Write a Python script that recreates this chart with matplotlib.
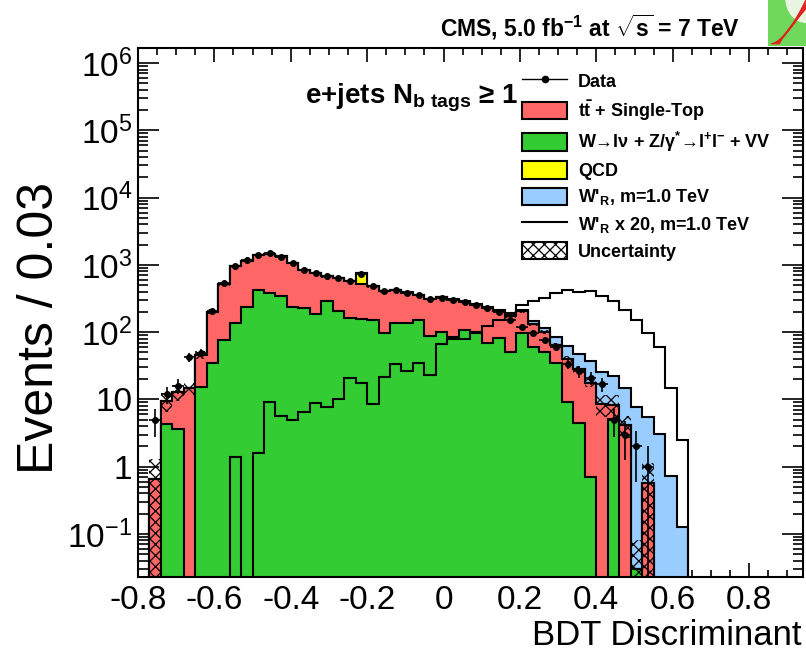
import numpy as np
import matplotlib
matplotlib.use("Agg")
import matplotlib.pyplot as plt
from matplotlib.lines import Line2D
from matplotlib.patches import Patch
from matplotlib.ticker import FixedLocator, FixedFormatter, LogLocator, MultipleLocator, NullFormatter

# BDT output, 0.03 wide bins starting at -0.80
bin_lo = -0.80
bin_width = 0.03

ewk = [0, 0, 4.3, 3.6, 0, 15.5, 34.6, 77, 136, 240,
       416, 388, 339, 240, 228, 187, 295, 207, 162, 156,
       152, 97, 136, 136, 152, 88, 102, 85, 108, 97,
       69, 81, 51, 97, 61, 51, 34.6, 9.3, 4.4, 0.71,
       0, 5.2, 0, 0.03, 0, 0, 0, 0]
top = [0, 0.65, 5.3, 9.4, 14.7, 30.5, 168, 441, 810, 920,
       997, 1074, 994, 820, 617, 568, 377, 429, 404, 364,
       325, 305, 290, 252, 207, 222, 228, 218, 177, 157,
       159, 122, 120, 106, 69, 49, 30, 31, 24, 17,
       8.5, 3.1, 4.2, 0, 0.58, 0, 0, 0]
qcd = [0] * 19 + [240] + [0] * 28
wprime = [0, 0, 0, 0, 0, 0, 0, 0, 0.07, 0,
          0.08, 0.46, 0.28, 0.25, 0.32, 0.44, 0.39, 0.5, 1.05, 0.87,
          0.43, 1.09, 1.69, 1.33, 1.73, 1.16, 3.35, 4.0, 4.0, 5.0,
          6.25, 7.5, 9.5, 12.7, 14.3, 15.9, 19.0, 21.5, 19.5, 20.1,
          17.0, 14.3, 10.8, 7.6, 4.85, 3.05, 0.73, 0.125]
data = [0, 5, 12, 16, 42, 49, 205, 530, 950, 1180,
        1400, 1480, 1320, 1080, 850, 760, 680, 630, 570, 720,
        480, 405, 420, 385, 355, 315, 325, 300, 280, 250,
        225, 200, 152, 121, 97, 77, 61, 34, 26, 21,
        17, 5, 3, 2, 1, 0, 0, 0]
bkg_unc = [0, 0.64, 3.0, 3.5, 3.0, 6, 15, 25, 40, 50,
           60, 60, 55, 45, 35, 32, 28, 27, 24, 35,
           20, 17, 18, 17, 16, 14, 15, 14, 13, 12,
           11, 10, 9, 10, 8, 7, 5, 4, 3.5, 2.5,
           3, 3.5, 1.5, 0.05, 0.56, 0, 0, 0]
signal_scale = 20

x_ticks = [-0.8, -0.6, -0.4, -0.2, 0, 0.2, 0.4, 0.6, 0.8]
x_ticklabels = ["-0.8", "-0.6", "-0.4", "-0.2", "0", "0.2", "0.4", "0.6", "0.8"]
y_ticks = [1e-1, 1, 10, 1e2, 1e3, 1e4, 1e5, 1e6]
y_ticklabels = [r"$\mathsf{10^{-1}}$", "1", "10", r"$\mathsf{10^{2}}$", r"$\mathsf{10^{3}}$",
                r"$\mathsf{10^{4}}$", r"$\mathsf{10^{5}}$", r"$\mathsf{10^{6}}$"]

RED = "#ff6666"
GREEN = "#33cc33"
YELLOW = "#ffff00"
BLUE = "#99ccff"
FLOOR = 1e-3

plt.rcParams["font.family"] = ["Liberation Sans", "DejaVu Sans"]
plt.rcParams["axes.unicode_minus"] = False
plt.rcParams["mathtext.fontset"] = "custom"
plt.rcParams["mathtext.rm"] = "Liberation Sans:bold"
plt.rcParams["mathtext.bf"] = "Liberation Sans:bold"
plt.rcParams["mathtext.it"] = "Liberation Sans:bold:italic"
plt.rcParams["mathtext.sf"] = "Liberation Sans"
plt.rcParams["mathtext.default"] = "rm"
plt.rcParams["hatch.linewidth"] = 0.9

ewk = np.array(ewk, dtype=float)
top = np.array(top, dtype=float)
qcd = np.array(qcd, dtype=float)
wprime = np.array(wprime, dtype=float)
data = np.array(data, dtype=float)
bkg_unc = np.array(bkg_unc, dtype=float)

n_bins = len(ewk)
edges = bin_lo + bin_width * np.arange(n_bins + 1)
centers = 0.5 * (edges[:-1] + edges[1:])

stack1 = ewk
stack2 = stack1 + top
stack3 = stack2 + qcd
stack4 = stack3 + wprime

fig = plt.figure(figsize=(8.06, 6.51), dpi=100)
ax = fig.add_axes([0.1711, 0.1144, 0.8247, 0.8118])

# stacked histograms, drawn from the full sum downwards
for values, color in [(stack4, BLUE), (stack3, YELLOW), (stack2, RED), (stack1, GREEN)]:
    ax.stairs(np.maximum(values, FLOOR), edges, baseline=FLOOR, fill=True,
              facecolor=color, edgecolor="black", linewidth=1.5, zorder=2)

# background uncertainty band
band_lo = np.maximum(stack3 - bkg_unc, FLOOR)
band_hi = stack3 + bkg_unc
has_unc = bkg_unc > 0
ax.bar(edges[:-1][has_unc], (band_hi - band_lo)[has_unc], bottom=band_lo[has_unc],
       width=bin_width, align="edge", facecolor="none", edgecolor="black",
       linewidth=0, hatch="xxx", zorder=3)

# scaled signal shape
ax.stairs(np.maximum(signal_scale * wprime, FLOOR), edges, baseline=FLOOR,
          color="black", linewidth=1.5, zorder=4)

has_data = data > 0
ax.errorbar(centers[has_data], data[has_data], yerr=np.sqrt(data[has_data]),
            xerr=bin_width / 2, fmt="o", color="black", ms=4, elinewidth=1.2,
            capsize=0, zorder=5)

ax.set_yscale("log")
ax.set_xlim(-0.80, 0.94)
ax.set_ylim(0.0233, 1.67e6)

ax.xaxis.set_major_locator(FixedLocator(x_ticks))
ax.xaxis.set_major_formatter(FixedFormatter(x_ticklabels))
ax.xaxis.set_minor_locator(MultipleLocator(0.05))
ax.yaxis.set_major_locator(FixedLocator(y_ticks))
ax.yaxis.set_major_formatter(FixedFormatter(y_ticklabels))
ax.yaxis.set_minor_locator(LogLocator(base=10, subs=np.arange(2, 10), numticks=20))
ax.yaxis.set_minor_formatter(NullFormatter())

ax.tick_params(axis="both", which="both", direction="in", top=True, right=True, width=1.2)
ax.tick_params(axis="x", which="major", length=10, pad=6, labelsize=24)
ax.tick_params(axis="x", which="minor", length=5)
ax.tick_params(axis="y", which="major", length=15, pad=4, labelsize=24)
ax.tick_params(axis="y", which="minor", length=7.5)
for spine in ax.spines.values():
    spine.set_linewidth(1.5)
    spine.set_zorder(6)

fig.text(801 / 806, 1 - 645 / 651, "BDT Discriminant", ha="right", va="baseline", fontsize=25)
fig.text(40 / 806, 1 - 328 / 651, "Events / 0.03", ha="center", va="center",
         rotation=90, fontsize=36)
fig.text(740 / 806, 1 - 27 / 651, r"CMS, 5.0 fb$^{-1}$ at $\sqrt{s}$ = 7 TeV",
         ha="right", va="center", fontsize=16.5, fontweight="bold")

fig.text(305 / 806, 1 - 103 / 651, r"e+jets N$_{\mathrm{b\ tags}}$ ≥ 1",
         va="baseline", fontsize=20, fontweight="bold")

handles = [
    Line2D([], [], color="black", marker="o", ms=4.5, lw=1.0),
    Patch(facecolor=RED, edgecolor="black", linewidth=1.5),
    Patch(facecolor=GREEN, edgecolor="black", linewidth=1.5),
    Patch(facecolor=YELLOW, edgecolor="black", linewidth=1.5),
    Patch(facecolor=BLUE, edgecolor="black", linewidth=1.5),
    Line2D([], [], color="black", lw=1.5),
    Patch(facecolor="white", edgecolor="black", linewidth=1.5, hatch="xxx"),
]
labels = [
    "Data",
    r"$\mathrm{t\bar{t}}$ + Single-Top",
    r"W→lν + Z/γ$^{*}$→l$^{+}$l$^{-}$ + VV",
    "QCD",
    r"W'$_{\mathrm{R}}$, m=1.0 TeV",
    r"W'$_{\mathrm{R}}$ x 20, m=1.0 TeV",
    "Uncertainty",
]
ax.legend(handles, labels, loc="upper left", bbox_to_anchor=(0.578, 0.955),
          frameon=False, borderpad=0, borderaxespad=0, handlelength=2.5,
          handleheight=1.1, handletextpad=0.6, labelspacing=0.4,
          prop={"size": 13, "weight": "bold"})

# small event-display badge in the corner
badge = fig.add_axes([768 / 806, 1 - 46 / 651, 38 / 806, 46 / 651])
badge.axis("off")
badge.add_patch(plt.Rectangle((0, 0), 1, 1, facecolor="#6fd85a", edgecolor="none"))
badge.add_patch(plt.Circle((1.0, 1.05), 0.55, facecolor="#e8f5e0", edgecolor="none"))
t = np.linspace(0, 1, 30)
for k in range(6):
    badge.plot(0.1 + 0.9 * t + 0.04 * k, 0.05 + 0.95 * t ** (1.6 - 0.15 * k), color="#e0231c", lw=1.0)
badge.set_xlim(0, 1)
badge.set_ylim(0, 1)

fig.savefig("out.png", dpi=100)
